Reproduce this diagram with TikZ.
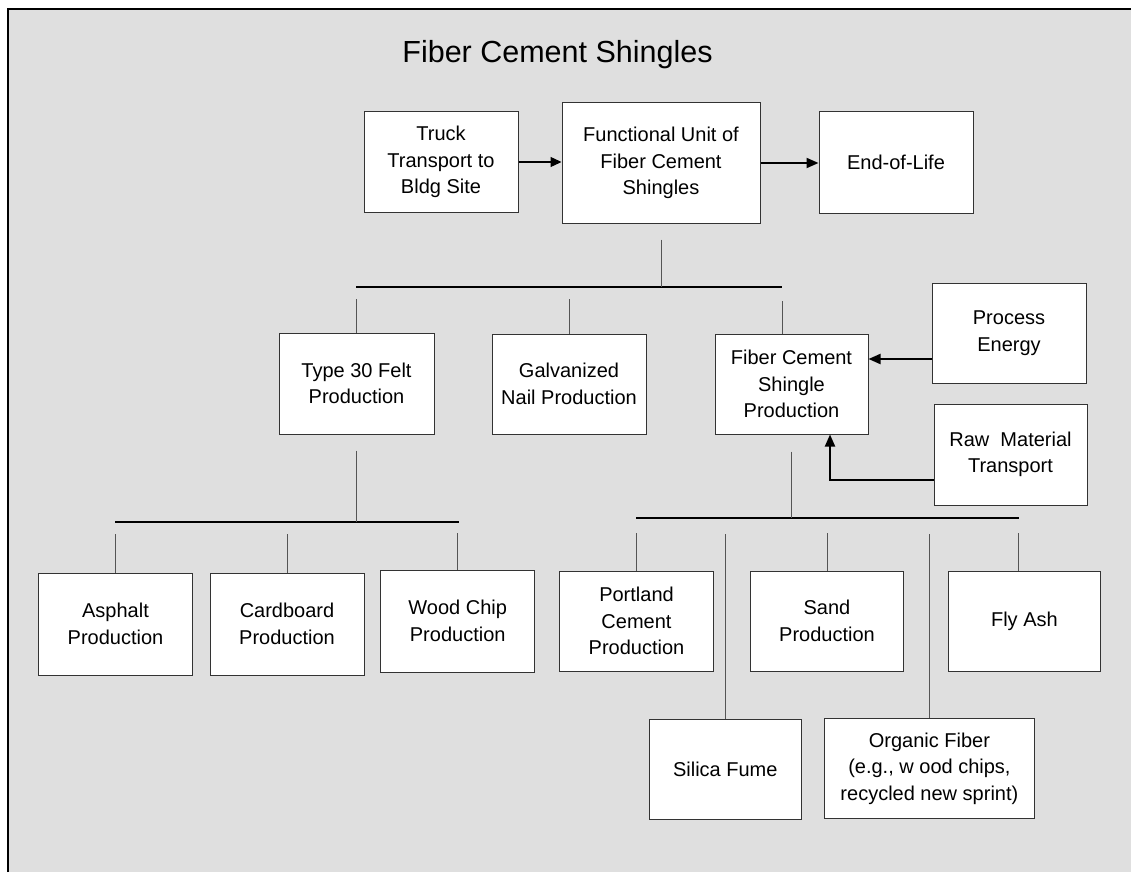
\documentclass[tikz,border=0pt]{standalone}
\usepackage{fontspec}
\setmainfont{Liberation Sans}
\usetikzlibrary{arrows.meta,calc}
\definecolor{bggray}{HTML}{DFDFDF}
\definecolor{boxline}{HTML}{333333}
\definecolor{stubline}{HTML}{555555}
\tikzset{
  box/.style={draw=boxline, line width=1pt, fill=white, align=center, inner sep=0pt,
    font=\fontsize{20}{26.5}\selectfont},
  stub/.style={draw=stubline, line width=1pt},
  bus/.style={draw=black, line width=2pt},
  arr/.style={draw=black, line width=2pt, -{Triangle[length=12pt,width=10pt]}},
  thinarr/.style={draw=black, line width=1.2pt, -{Triangle[length=11pt,width=10pt]}},
}
\begin{document}
\begin{tikzpicture}[x=1pt,y=-1pt]
\useasboundingbox (0,0) rectangle (1131,872);
\fill[bggray] (8,9) rectangle (1131,872);
\draw[black, line width=2pt] (8,872) -- (8,9) -- (1131,9);

\node[anchor=base, inner sep=0pt, font=\fontsize{30.5}{36}\selectfont] (title) at (557.5,63) {Fiber Cement Shingles};

% top row
\node[box, minimum width=154pt, minimum height=100pt] (truck) at (441,162) {Truck\\Transport to\\Bldg Site};
\node[box, minimum width=198pt, minimum height=120pt] (fu) at (661,163) {Functional Unit of\\Fiber Cement\\Shingles};
\node[box, minimum width=154pt, minimum height=101pt] (eol) at (896,162.5) {End-of-Life};

% second row
\node[box, minimum width=155pt, minimum height=101pt] (felt) at (356.5,383.5) {Type 30 Felt\\Production};
\node[box, minimum width=154pt, minimum height=100pt] (nail) at (569,384) {Galvanized\\Nail Production};
\node[box, minimum width=153pt, minimum height=100pt] (fcsp) at (791.5,384) {Fiber Cement\\Shingle\\Production};
\node[box, minimum width=154pt, minimum height=100pt] (pe) at (1009,333) {Process\\Energy};
\node[box, minimum width=153pt, minimum height=101pt] (rmt) at (1010.5,454.5) {Raw\ \ Material\\Transport};

% third row
\node[box, minimum width=154pt, minimum height=102pt] (asph) at (115.5,624) {Asphalt\\Production};
\node[box, minimum width=154pt, minimum height=102pt] (card) at (287,624) {Cardboard\\Production};
\node[box, minimum width=154pt, minimum height=102pt] (wood) at (457.7,621) {Wood Chip\\Production};
\node[box, minimum width=154pt, minimum height=100pt] (port) at (636.5,621) {Portland\\Cement\\Production};
\node[box, minimum width=153pt, minimum height=100pt] (sand) at (827,621) {Sand\\Production};
\node[box, minimum width=152pt, minimum height=100pt] (fly) at (1024.4,621) {Fly Ash};

% fourth row
\node[box, minimum width=152pt, minimum height=100pt] (silica) at (725.3,769) {Silica Fume};
\node[box, minimum width=210pt, minimum height=100pt] (org) at (929.4,768.5) {Organic Fiber\\(e.g., w ood chips,\\recycled new sprint)};

% bus coordinates
\coordinate (b1L) at (356,287);
\coordinate (b1R) at (782,287);
\coordinate (b2L) at (115,521.5);
\coordinate (b2R) at (458.5,521.5);
\coordinate (b3L) at (636,518);
\coordinate (b3R) at (1018.7,518);
\coordinate (s1) at (0,299);
\coordinate (s2) at (0,534);
\coordinate (s3) at (0,533);

% arrows top
\draw[thinarr] (truck.east) -- (truck.east -| fu.west);
\draw[arr] (fu.east) -- (fu.east -| eol.west);

% FU to bus 1
\draw[bus] (b1L) -- (b1R);
\draw[stub] ([yshift=-16pt]fu.south) -- (fu.south |- b1L);
\draw[stub] (felt.north) -- (felt.north |- s1);
\draw[stub] (nail.north) -- (nail.north |- s1);
\draw[stub] (fcsp.north -| b1R) -- ($(fcsp.north -| b1R)+(0,-33)$);

% inputs to FCSP
\draw[arr] ([yshift=-26pt]pe.west) -- ([yshift=-26pt]pe.west -| fcsp.east);
\draw[arr] ([yshift=-25.5pt]rmt.west) -| ([xshift=38.5pt]fcsp.south);

% felt to bus 2
\draw[bus] (b2L) -- (b2R);
\draw[stub] ([yshift=-16pt]felt.south) -- (felt.south |- b2L);
\draw[stub] (asph.north) -- (asph.north |- s2);
\draw[stub] (card.north) -- (card.north |- s2);
\draw[stub] (wood.north) -- (wood.north |- s3);

% fcsp to bus 3
\draw[bus] (b3L) -- (b3R);
\draw[stub] ([yshift=-17pt]fcsp.south) -- (fcsp.south |- b3L);
\draw[stub] (port.north) -- (port.north |- s3);
\draw[stub] (silica.north) -- (silica.north |- s2);
\draw[stub] (sand.north) -- (sand.north |- s3);
\draw[stub] (org.north) -- (org.north |- s2);
\draw[stub] (fly.north -| b3R) -- (b3R |- s3);
\end{tikzpicture}
\end{document}
